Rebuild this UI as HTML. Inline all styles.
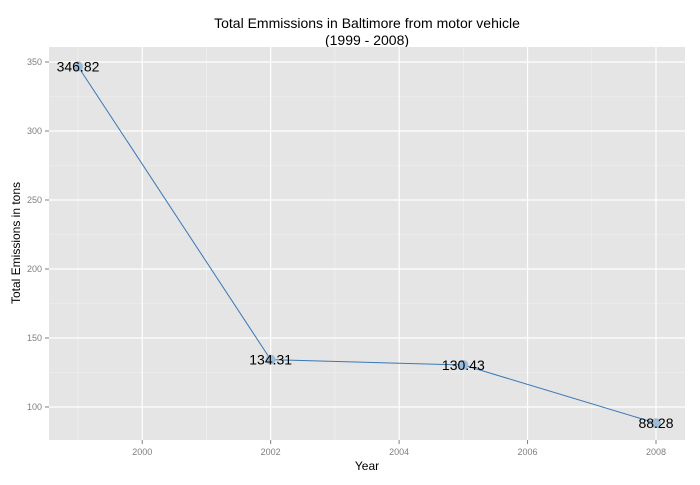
<!DOCTYPE html>
<html><head><meta charset="utf-8"><style>
body{margin:0;background:#fff;font-family:"Liberation Sans",sans-serif;}
</style></head><body>
<svg width="700" height="480" xmlns="http://www.w3.org/2000/svg" font-family="Liberation Sans, sans-serif">
<text x="367" y="28" text-anchor="middle" font-size="14">Total Emmissions in Baltimore from motor vehicle</text>
<text x="367" y="45" text-anchor="middle" font-size="14">(1999 - 2008)</text>
<rect x="49" y="47" width="636" height="393" fill="#e5e5e5"/>
<g id="grid"></g><g id="axes"></g><g id="marks"></g>
<text x="367" y="470" text-anchor="middle" font-size="12">Year</text>
<text transform="translate(20,243) rotate(-90)" text-anchor="middle" font-size="12">Total Emissions in tons</text>
</svg>
<script>
const years=[1999,2002,2005,2008];
const values=[346.82,134.31,130.43,88.28];
const labels=["346.82","134.31","130.43","88.28"];
const xTicks=[2000,2002,2004,2006,2008];
const yTicks=[100,150,200,250,300,350];
const NS="http://www.w3.org/2000/svg";
const L=49,R=685,T=47,B=440;
const x=v=>78+(v-1999)*(656-78)/9;
const y=v=>407-(v-100)*(407-62)/250;
function mk(t,a,p){const e=document.createElementNS(NS,t);for(const k in a)e.setAttribute(k,a[k]);p.appendChild(e);return e;}
const g=document.getElementById('grid'),ax=document.getElementById('axes'),m=document.getElementById('marks');
for(let v=1999;v<=2009;v+=1){const e=mk('line',{x1:x(v),x2:x(v),y1:T,y2:B,stroke:'#f2f2f2','stroke-width':0.6},g);

}
for(let v=75;v<=375;v+=50){const yy=y(v);if(yy<T||yy>B)continue;const e=mk('line',{x1:L,x2:R,y1:yy,y2:yy,stroke:'#f2f2f2','stroke-width':0.6},g);

}
xTicks.forEach(v=>{const e=mk('line',{x1:x(v),x2:x(v),y1:T,y2:B,stroke:'#fff','stroke-width':1.2},g);


mk('line',{x1:x(v),x2:x(v),y1:B,y2:B+4,stroke:'#7f7f7f'},ax);
const t=mk('text',{x:x(v),y:B+15,'text-anchor':'middle','font-size':9,fill:'#7f7f7f'},ax);t.textContent=v;

});
yTicks.forEach(v=>{const e=mk('line',{x1:L,x2:R,y1:y(v),y2:y(v),stroke:'#fff','stroke-width':1.2},g);


mk('line',{x1:L-4,x2:L,y1:y(v),y2:y(v),stroke:'#7f7f7f'},ax);
const t=mk('text',{x:L-7,y:y(v)+3,'text-anchor':'end','font-size':9,fill:'#7f7f7f'},ax);t.textContent=v;

});
const ln=mk('polyline',{points:years.map((v,i)=>x(v)+','+y(values[i])).join(' '),fill:'none',stroke:'#3a78b5','stroke-width':1},m);


years.forEach((v,i)=>{const c=mk('circle',{cx:x(v),cy:y(values[i]),r:5,fill:'#9dbcd8'},m);


const t=mk('text',{x:x(v),y:y(values[i])+5,'text-anchor':'middle','font-size':14,fill:'#000'},m);t.textContent=labels[i];

});
</script>
</body></html>
